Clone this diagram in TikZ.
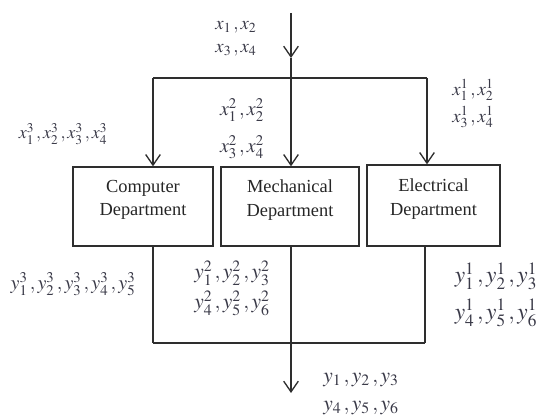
\documentclass[tikz,border=0pt]{standalone}
\usepackage{mathptmx}
\usepackage{fontspec}
\setmainfont{Liberation Serif}
\usetikzlibrary{arrows.meta}
\definecolor{ln}{HTML}{2E2E2E}
\definecolor{lab}{HTML}{3A3A48}
\definecolor{bt}{HTML}{262626}
\tikzset{
  wire/.style={draw=ln, line width=1pt},
  arr/.style={wire, -{Straight Barb[length=8pt,width=11pt,line width=1pt]}},
  dept/.style={draw=ln, line width=1pt, inner sep=0pt},
  depttext/.style={text=bt, align=center, inner sep=0pt, font=\fontsize{13.8}{17.5}\selectfont},
  lbl/.style={text=lab, inner sep=0pt},
}
\begin{document}
\begin{tikzpicture}[x=0.75pt, y=-0.75pt]
\useasboundingbox (0,0) rectangle (539,417);
% boxes
\node[dept, minimum width=105pt, minimum height=59.25pt] (comp) at (143,206.5) {};
\node[dept, minimum width=103.5pt, minimum height=59.25pt] (mech) at (290,206.5) {};
\node[dept, minimum width=99.75pt, minimum height=60.75pt] (elec) at (433.5,205.5) {};
\node[depttext] (compt) at (143,200) {Computer\\Department};
\node[depttext] (mecht) at (290,200) {Mechanical\\Department};
\node[depttext] (elect) at (433.5,199) {Electrical\\Department};
% coordinates
\coordinate (top) at (291,13);
\coordinate (mid) at (291,58);
\coordinate (J) at (291,78);
\coordinate (L) at (153,78);
\coordinate (R) at (427,78);
\coordinate (BL) at (153,343);
\coordinate (BM) at (291,343);
\coordinate (BR) at (425,343);
\coordinate (out) at (291,393);
% input
\draw[arr] (top) -- (mid);
\draw[wire] (mid) -- (J);
\draw[wire] (L) -- (R);
\draw[arr] (L) -- (L |- comp.north);
\draw[arr] (J) -- (J |- mech.north);
\draw[arr] (R) -- (R |- elec.north);
% output
\draw[wire] (BL |- comp.south) -- (BL);
\draw[wire] (BM |- mech.south) -- (BM);
\draw[wire] (BR |- elec.south) -- (BR);
\draw[wire] (BL) -- (BR);
\draw[arr] (BM) -- (out);
% labels
\node[lbl, font=\fontsize{14}{16}\selectfont] (xa) at (236,27) {$x_1\, ,x_2$};
\node[lbl, font=\fontsize{14}{16}\selectfont] (xb) at (236,50) {$x_3\, ,x_4$};
\node[lbl, font=\fontsize{13.5}{16}\selectfont] (x3) at (63,134) {$x_1^3\, ,x_2^3\, ,x_3^3\, ,x_4^3$};
\node[lbl, font=\fontsize{15}{16}\selectfont] (x2a) at (242,110) {$x_1^2\, ,x_2^2$};
\node[lbl, font=\fontsize{15}{16}\selectfont] (x2b) at (242,147) {$x_3^2\, ,x_4^2$};
\node[lbl, font=\fontsize{14}{16}\selectfont] (x1a) at (473,90) {$x_1^1\, ,x_2^1$};
\node[lbl, font=\fontsize{14}{16}\selectfont] (x1b) at (473,117) {$x_3^1\, ,x_4^1$};
\node[lbl, font=\fontsize{15}{18}\selectfont] (y3) at (73,284) {$y_1^3\, ,y_2^3\, ,y_3^3\, ,y_4^3\, ,y_5^3$};
\node[lbl, font=\fontsize{16}{18}\selectfont] (y2a) at (232,273) {$y_1^2\, ,y_2^2\, ,y_3^2$};
\node[lbl, font=\fontsize{16}{18}\selectfont] (y2b) at (232,303) {$y_4^2\, ,y_5^2\, ,y_6^2$};
\node[lbl, font=\fontsize{17.5}{20}\selectfont] (y1a) at (496,276) {$y_1^1\, ,y_2^1\, ,y_3^1$};
\node[lbl, font=\fontsize{17.5}{20}\selectfont] (y1b) at (496,313) {$y_4^1\, ,y_5^1\, ,y_6^1$};
\node[lbl, font=\fontsize{16}{18}\selectfont] (ya) at (361,380) {$y_1\, ,y_2\, ,y_3$};
\node[lbl, font=\fontsize{16}{18}\selectfont] (yb) at (361,408) {$y_4\, ,y_5\, ,y_6$};
\end{tikzpicture}
\end{document}
